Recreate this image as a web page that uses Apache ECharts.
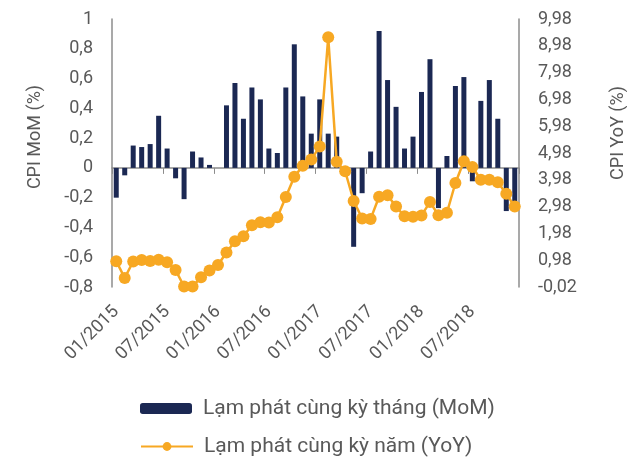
<!DOCTYPE html>
<html>
<head>
<meta charset="utf-8">
<script src="https://cdn.jsdelivr.net/npm/echarts@6/dist/echarts.min.js"></script>
<style>
  html, body { margin: 0; padding: 0; background: #fff; }
  #chart { width: 627px; height: 457px; }
</style>
</head>
<body>
<div id="chart"></div>
<script>
// thang 01/2015 .. 12/2018
const months = []
for (let y = 2015; y <= 2018; y++) {
  for (let m = 1; m <= 12; m++) {
    months.push((m < 10 ? '0' + m : '' + m) + '/' + y)
  }
}

// CPI MoM (%)
const momValues = [
  -0.20, -0.05, 0.15, 0.14, 0.16, 0.35, 0.13, -0.07, -0.21, 0.11, 0.07, 0.02,
  0.00, 0.42, 0.57, 0.33, 0.54, 0.46, 0.13, 0.10, 0.54, 0.83, 0.48, 0.23,
  0.46, 0.23, 0.21, 0.00, -0.53, -0.17, 0.11, 0.92, 0.59, 0.41, 0.13, 0.21,
  0.51, 0.73, -0.27, 0.08, 0.55, 0.61, -0.09, 0.45, 0.59, 0.33, -0.29, -0.25
]

// CPI YoY (%)
const yoyValues = [
  0.94, 0.32, 0.93, 0.99, 0.95, 1.00, 0.90, 0.61, 0.00, 0.00, 0.34, 0.60,
  0.80, 1.27, 1.69, 1.87, 2.28, 2.40, 2.39, 2.58, 3.34, 4.09, 4.50, 4.74,
  5.22, 9.30, 4.65, 4.30, 3.19, 2.54, 2.52, 3.35, 3.40, 2.98, 2.62, 2.60,
  2.65, 3.15, 2.66, 2.75, 3.86, 4.67, 4.46, 3.98, 3.98, 3.89, 3.46, 2.98
]

const seriesNames = ['Lạm phát cùng kỳ tháng (MoM)', 'Lạm phát cùng kỳ năm (YoY)']

const textColor = '#595959'
const axisColor = '#8c8c8c'
const fontFamily = 'Roboto'

const legendBase = {
  left: 135,
  itemWidth: 52,
  itemHeight: 11,
  textStyle: { color: textColor, fontSize: 21, fontFamily: fontFamily, padding: [0, 0, 0, 6] }
}

const chart = echarts.init(document.getElementById('chart'))

chart.setOption({
  animation: false,
  textStyle: { fontFamily: fontFamily },
  grid: {
    left: 112,
    right: 108,
    top: 19,
    bottom: 170,
    outerBoundsMode: 'none'
  },
  legend: [
    Object.assign({ top: 393, data: [seriesNames[0]] }, legendBase),
    Object.assign({ top: 431, data: [seriesNames[1]] }, legendBase)
  ],
  xAxis: [{
    // truc o muc 0
    type: 'category',
    data: months,
    axisLine: { onZero: true, lineStyle: { color: axisColor, width: 1.5 } },
    axisTick: { show: true, interval: 5, length: 6, lineStyle: { color: axisColor } },
    axisLabel: { show: false },
    splitLine: { show: false }
  }, {
    // nhan thang o duoi
    type: 'category',
    position: 'bottom',
    data: months,
    axisLine: { show: false, onZero: false },
    axisTick: { show: false },
    axisLabel: {
      interval: 5,
      rotate: 45,
      margin: 22,
      color: textColor,
      fontSize: 18
    },
    splitLine: { show: false }
  }],
  yAxis: [{
    type: 'value',
    min: -0.8,
    max: 1,
    interval: 0.2,
    name: 'CPI MoM (%)',
    nameLocation: 'middle',
    nameRotate: 90,
    nameGap: 68,
    nameTextStyle: { color: textColor, fontSize: 18, padding: [0, 0, 0, 32] },
    axisLine: { show: true, lineStyle: { color: axisColor, width: 1.5 } },
    axisTick: { show: false },
    axisLabel: {
      color: textColor,
      fontSize: 18,
      margin: 19,
      formatter: v => String(Math.round(v * 10) / 10).replace('.', ',')
    },
    splitLine: { show: false }
  }, {
    type: 'value',
    min: -0.02,
    max: 9.98,
    interval: 1,
    name: 'CPI YoY (%)',
    nameLocation: 'middle',
    nameRotate: 90,
    nameGap: 90,
    nameTextStyle: { color: textColor, fontSize: 18, padding: [0, 0, 0, 40] },
    axisLine: { show: true, lineStyle: { color: axisColor, width: 1.5 } },
    axisTick: { show: false },
    axisLabel: {
      color: textColor,
      fontSize: 18,
      margin: 19,
      formatter: v => v.toFixed(2).replace('.', ',')
    },
    splitLine: { show: false }
  }],
  series: [{
    name: seriesNames[0],
    type: 'bar',
    xAxisIndex: 0,
    yAxisIndex: 0,
    barWidth: 5,
    itemStyle: { color: '#1b2853' },
    data: momValues
  }, {
    name: seriesNames[1],
    type: 'line',
    xAxisIndex: 0,
    yAxisIndex: 1,
    symbol: 'circle',
    symbolSize: 12,
    showSymbol: true,
    showAllSymbol: true,
    lineStyle: { color: '#f7a823', width: 2.5 },
    itemStyle: { color: '#f7a823' },
    data: yoyValues
  }]
})
</script>
</body>
</html>
